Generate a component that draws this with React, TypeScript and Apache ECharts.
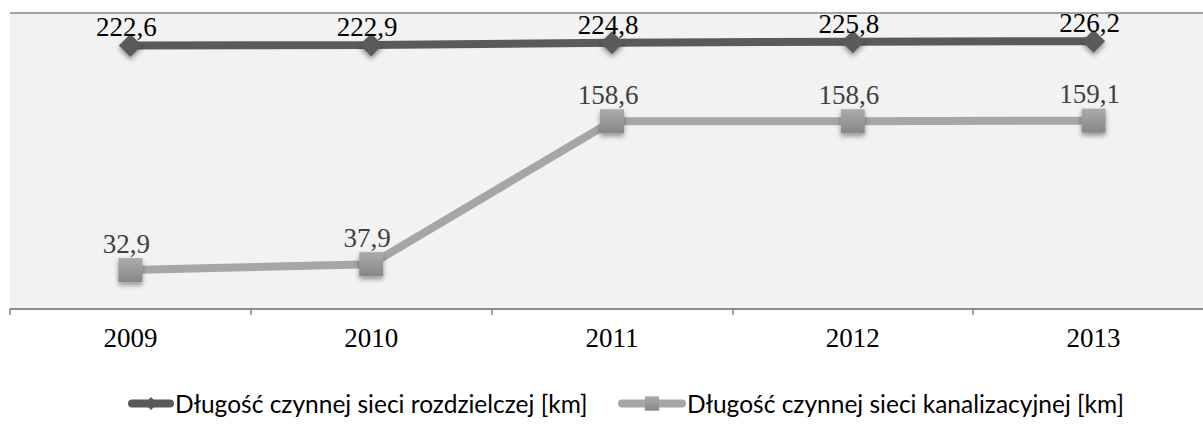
import React, { useEffect, useRef } from "react";
import * as echarts from "echarts";

const years = ["2009", "2010", "2011", "2012", "2013"];
const seriesNames = [
  "Długość czynnej sieci rozdzielczej [km]",
  "Długość czynnej sieci kanalizacyjnej [km]",
];
const rozdzielcza = [222.6, 222.9, 224.8, 225.8, 226.2];
const kanalizacyjna = [32.9, 37.9, 158.6, 158.6, 159.1];

const fmt = (v: number) => v.toFixed(1).replace(".", ",");

export default function App() {
  const ref = useRef<HTMLDivElement>(null);
  useEffect(() => {
    document.body.style.margin = "0";
    const chart = echarts.init(ref.current!, null, { renderer: "svg" });
    const serif = "'Liberation Serif', 'Times New Roman', serif";
    const legendText = { fontFamily: "Lato, 'Open Sans', sans-serif", fontSize: 24.5, color: "#000" };
    chart.setOption({
      animation: false,
      backgroundColor: "#ffffff",
      grid: {
        left: 10,
        top: 13,
        width: 1204,
        bottom: 119,
        outerBoundsMode: "none",
        containLabel: false,
        show: true,
        backgroundColor: "#f2f2f2",
        borderWidth: 0,
      },
      legend: [
        {
          top: 386,
          left: 123,
          itemWidth: 38,
          itemHeight: 16,
          lineStyle: { width: 8, cap: "round" },
          textStyle: legendText,
          data: [seriesNames[0]],
        },
        {
          top: 386,
          left: 613,
          itemWidth: 60,
          itemHeight: 18,
          lineStyle: { width: 8, cap: "round" },
          textStyle: legendText,
          data: [seriesNames[1]],
        },
      ],
      xAxis: {
        type: "category",
        data: years,
        boundaryGap: true,
        axisLine: { show: true, lineStyle: { color: "#868686", width: 1.5 } },
        axisTick: { show: true, length: 6, lineStyle: { color: "#868686", width: 1.5 } },
        axisLabel: { fontFamily: serif, fontSize: 27, color: "#000", margin: 15 },
        splitLine: { show: false },
      },
      yAxis: {
        type: "value",
        min: 0,
        max: 250,
        interval: 250,
        axisLine: { show: false },
        axisTick: { show: false },
        axisLabel: { show: false },
        splitLine: { show: true, lineStyle: { color: "#868686", width: 1.5 } },
      },
      series: [
        {
          name: seriesNames[0],
          type: "line",
          data: rozdzielcza,
          symbol: "diamond",
          symbolSize: [23, 23],
          lineStyle: { color: "#5a5a5a", width: 8 },
          itemStyle: {
            color: "#5a5a5a",
            shadowBlur: 5,
            shadowOffsetY: 3,
            shadowColor: "rgba(0,0,0,0.4)",
          },
          label: {
            show: true,
            position: "top",
            distance: -7,
            offset: [-4, 0],
            formatter: (p: any) => fmt(p.value),
            fontFamily: serif,
            fontSize: 27,
            color: "#000",
          },
          z: 3,
        },
        {
          name: seriesNames[1],
          type: "line",
          data: kanalizacyjna,
          symbol: "rect",
          symbolSize: [24, 24],
          lineStyle: { color: "#a6a6a6", width: 8 },
          itemStyle: {
            color: new echarts.graphic.LinearGradient(0, 0, 0, 1, [
              { offset: 0, color: "#ababab" },
              { offset: 1, color: "#878787" },
            ]),
            shadowBlur: 5,
            shadowOffsetY: 3,
            shadowColor: "rgba(0,0,0,0.4)",
          },
          label: {
            show: true,
            position: "top",
            distance: 1,
            offset: [-4, 0],
            formatter: (p: any) => fmt(p.value),
            fontFamily: serif,
            fontSize: 27,
            color: "#404040",
          },
          z: 2,
        },
      ],
    });
    return () => chart.dispose();
  }, []);
  return <div ref={ref} style={{ width: 1203, height: 428 }} />;
}
